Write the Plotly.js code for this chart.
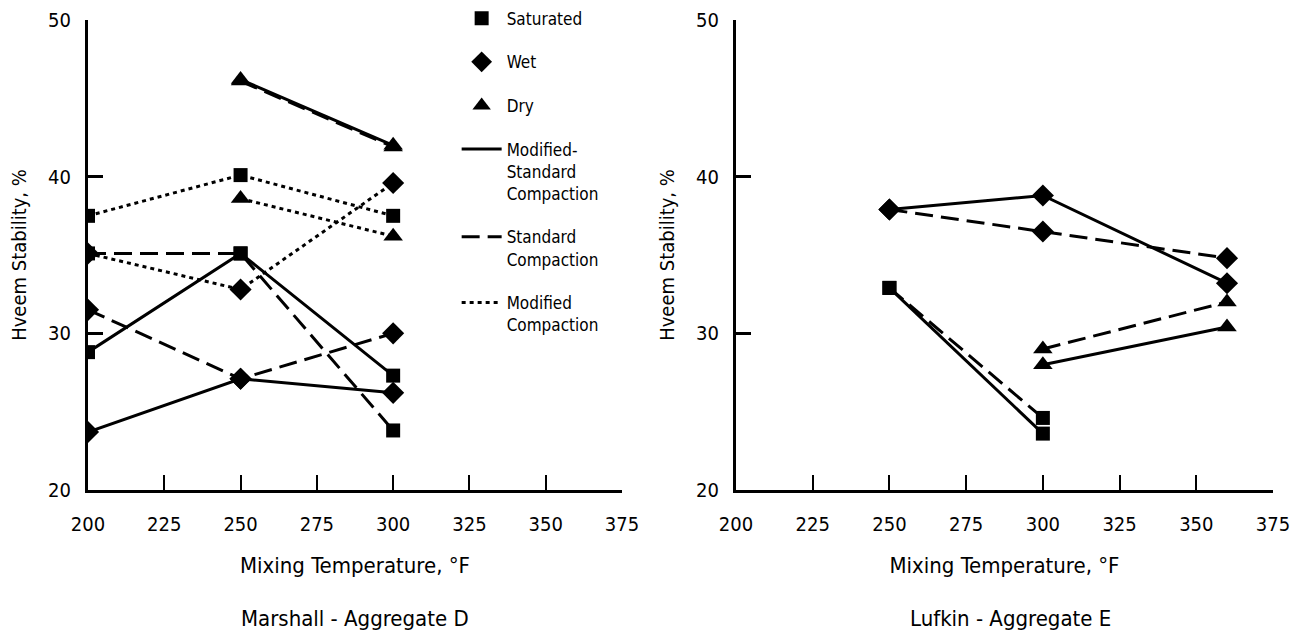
<!DOCTYPE html>
<html>
<head>
<meta charset="utf-8">
<script src="https://cdn.plot.ly/plotly-3.0.1.min.js"></script>
<style>html,body{margin:0;padding:0;background:#fff}#chart{width:1301px;height:639px}</style>
</head>
<body>
<div id="chart"></div>
<script>
// ---- data ----
const leftTemps = [200, 250, 300];
const rightTemps = [250, 300, 360];
const xTicks = [200, 225, 250, 275, 300, 325, 350, 375];
const yTicks = [20, 30, 40, 50];

// Marshall - Aggregate D
const L_sat_modStd = [28.8, 35.1, 27.3];
const L_sat_std    = [35.1, 35.1, 23.8];
const L_sat_mod    = [37.5, 40.1, 37.5];
const L_wet_modStd = [23.7, 27.1, 26.2];
const L_wet_std    = [31.5, 27.1, 30.0];
const L_wet_mod    = [35.1, 32.8, 39.6];
const L_dry_modStd = [null, 46.2, 42.0];
const L_dry_std    = [null, 46.1, 41.9];
const L_dry_mod    = [null, 38.6, 36.2];

// Lufkin - Aggregate E
const R_sat_modStd = [32.9, 23.6, null];
const R_sat_std    = [32.9, 24.6, null];
const R_wet_modStd = [37.9, 38.8, 33.2];
const R_wet_std    = [37.9, 36.5, 34.8];
const R_dry_modStd = [null, 28.0, 30.4];
const R_dry_std    = [null, 29.0, 32.0];

// ---- styles ----
const FONT = "'DejaVu Sans Condensed', 'Liberation Sans Narrow', 'Arial Narrow', sans-serif";
const dashes = {modStd: 'solid', std: '18px,8px', mod: '4px,4px'};
const syms = {sat: {symbol: 'square', size: 14}, wet: {symbol: 'diamond', size: 17}, dry: {symbol: 'triangle-up', size: 17}};

function tr(x, y, cond, comp, ax) {
  return {
    x: x, y: y, xaxis: ax[0], yaxis: ax[1], type: 'scatter', mode: 'lines+markers',
    showlegend: false, connectgaps: false, hoverinfo: 'skip',
    line: {color: '#000', width: 3, dash: dashes[comp]},
    marker: {color: '#000', symbol: syms[cond].symbol, size: syms[cond].size}
  };
}
const A = ['x', 'y'], B = ['x2', 'y2'];
const traces = [
  tr(leftTemps, L_dry_mod, 'dry', 'mod', A),
  tr(leftTemps, L_wet_mod, 'wet', 'mod', A),
  tr(leftTemps, L_sat_mod, 'sat', 'mod', A),
  tr(leftTemps, L_dry_std, 'dry', 'std', A),
  tr(leftTemps, L_wet_std, 'wet', 'std', A),
  tr(leftTemps, L_sat_std, 'sat', 'std', A),
  tr(leftTemps, L_dry_modStd, 'dry', 'modStd', A),
  tr(leftTemps, L_wet_modStd, 'wet', 'modStd', A),
  tr(leftTemps, L_sat_modStd, 'sat', 'modStd', A),
  tr(rightTemps, R_sat_std, 'sat', 'std', B),
  tr(rightTemps, R_sat_modStd, 'sat', 'modStd', B),
  tr(rightTemps, R_wet_std, 'wet', 'std', B),
  tr(rightTemps, R_wet_modStd, 'wet', 'modStd', B),
  tr(rightTemps, R_dry_std, 'dry', 'std', B),
  tr(rightTemps, R_dry_modStd, 'dry', 'modStd', B)
];

// legend-only entries
const legendItems = [
  {name: 'Saturated', mode: 'markers', cond: 'sat'},
  {name: 'Wet', mode: 'markers', cond: 'wet'},
  {name: 'Dry', mode: 'markers', cond: 'dry'},
  {name: 'Modified-<br>Standard<br>Compaction', mode: 'lines', comp: 'modStd'},
  {name: 'Standard<br>Compaction', mode: 'lines', comp: 'std'},
  {name: 'Modified<br>Compaction', mode: 'lines', comp: 'mod'}
];
legendItems.forEach(function (it, i) {
  const t = {x: [null], y: [null], type: 'scatter', mode: it.mode, name: it.name,
    showlegend: true, legendgroup: 'g' + i, hoverinfo: 'skip'};
  if (it.mode === 'markers') t.marker = {color: '#000', symbol: syms[it.cond].symbol, size: syms[it.cond].size};
  else t.line = {color: '#000', width: 3, dash: dashes[it.comp]};
  traces.push(t);
});

const tickFont = {family: FONT, size: 20, color: '#000'};
const xTitleFont = {family: FONT, size: 22, color: '#000'};
const yTitleFont = {family: FONT, size: 20, color: '#000'};
function xax(domain, anchor) {
  return {domain: domain, anchor: anchor, range: [200, 375], tickvals: xTicks, ticktext: xTicks.map(String),
    ticks: 'inside', ticklen: 15, tickwidth: 2, tickcolor: '#000', showline: true, linewidth: 3, linecolor: '#000',
    showgrid: false, zeroline: false, tickfont: tickFont, ticklabelstandoff: 14, automargin: false,
    title: {text: 'Mixing Temperature, °F', font: xTitleFont, standoff: 23}};
}
function yax(anchor) {
  return {domain: [0.23318, 0.9687], anchor: anchor, range: [20, 50], tickvals: yTicks, ticktext: yTicks.map(String),
    ticks: 'inside', ticklen: 15, tickwidth: 3, tickcolor: '#000', showline: true, linewidth: 3, linecolor: '#000',
    showgrid: false, zeroline: false, tickfont: tickFont, ticklabelstandoff: 10, automargin: false,
    title: {text: 'Hveem Stability, %', font: yTitleFont, standoff: 17}};
}

const layout = {
  width: 1301, height: 639,
  margin: {l: 0, r: 0, t: 0, b: 0},
  paper_bgcolor: '#fff', plot_bgcolor: '#fff',
  font: {family: FONT, color: '#000'},
  xaxis: xax([0.06764, 0.4781], 'y'),
  yaxis: yax('x'),
  xaxis2: xax([0.5657, 0.9785], 'y2'),
  yaxis2: yax('x2'),
  showlegend: true,
  legend: {x: 0.351, y: 0.999, xanchor: 'left', yanchor: 'top', bgcolor: 'rgba(0,0,0,0)',
    font: {family: FONT, size: 17, color: '#000'}, traceorder: 'grouped', tracegroupgap: 18.5,
    valign: 'top', itemwidth: 40},
  annotations: [
    {text: 'Marshall - Aggregate D', xref: 'paper', yref: 'paper', x: 355 / 1301, y: 1 - 618 / 639,
      xanchor: 'center', yanchor: 'middle', showarrow: false, font: xTitleFont},
    {text: 'Lufkin - Aggregate E', xref: 'paper', yref: 'paper', x: 1010 / 1301, y: 1 - 618 / 639,
      xanchor: 'center', yanchor: 'middle', showarrow: false, font: xTitleFont}
  ]
};

Plotly.newPlot('chart', traces, layout, {staticPlot: true, displayModeBar: false});
</script>
</body>
</html>
